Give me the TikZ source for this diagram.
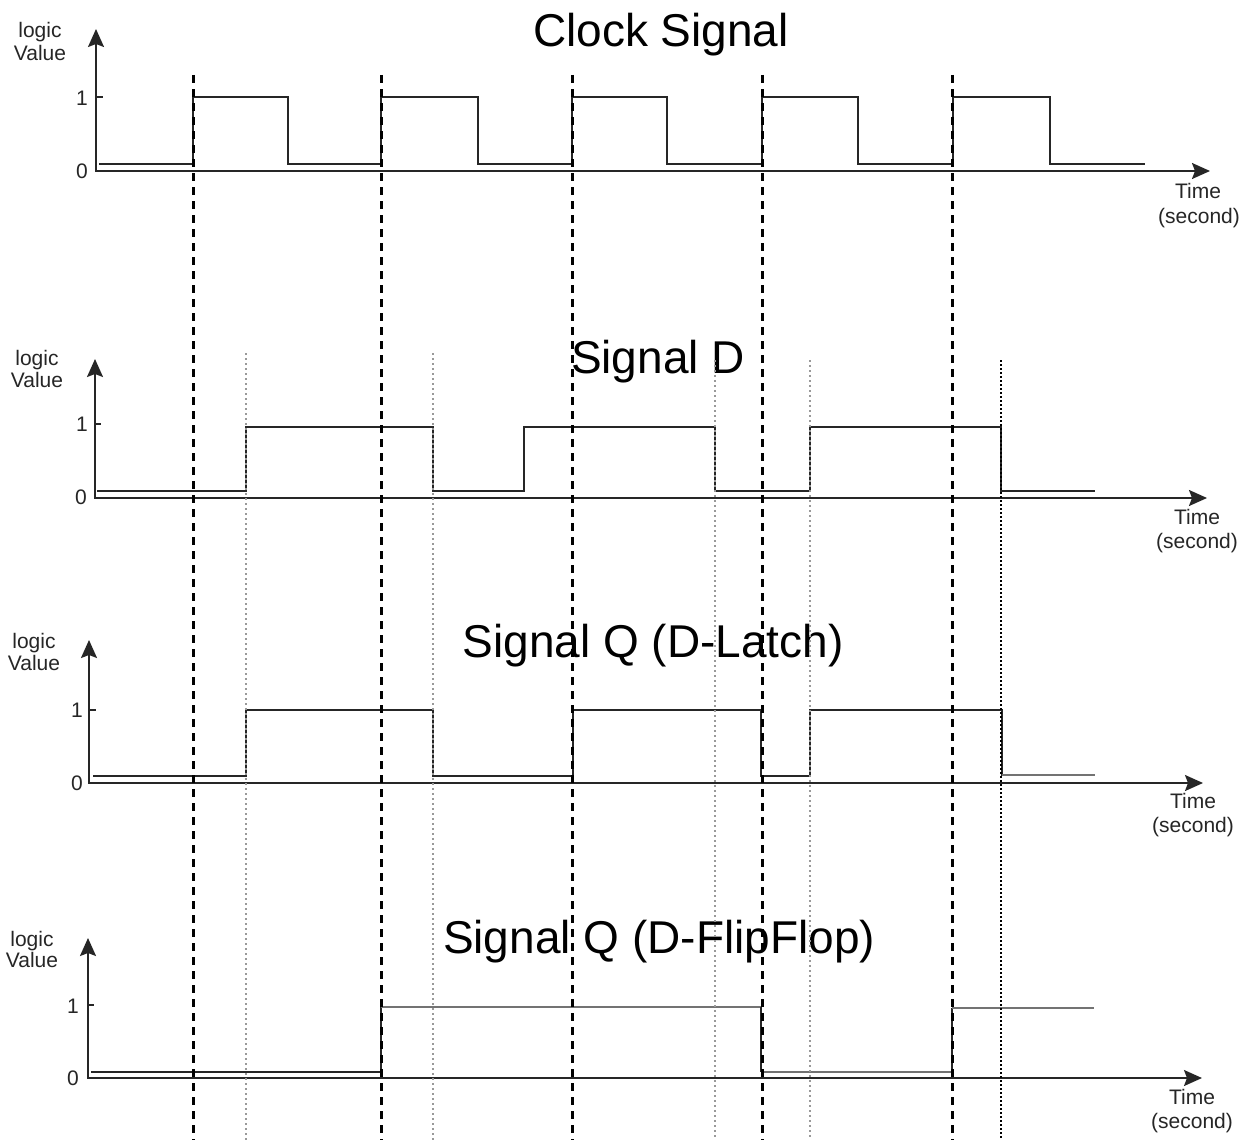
\documentclass[tikz,border=0pt]{standalone}
\usepackage{fontspec}
\setmainfont{Liberation Sans}
\usetikzlibrary{arrows.meta}
\begin{document}
\begin{tikzpicture}[x=1pt,y=-1pt,
  axis/.style={line width=1.8pt, black!85, arrows={Stealth[length=18pt,width=16pt,inset=3pt]-Stealth[length=18pt,width=16pt,inset=3pt]}},
  lbl/.style={font=\fontsize{21}{24}\selectfont, inner sep=0pt, text=black!85},
  ttl/.style={font=\fontsize{46}{50}\selectfont, inner sep=0pt, anchor=base, text=black},
  sig/.style={line width=2pt, black!85, line join=miter},
  siggray/.style={line width=2pt, black!55},
  clkline/.style={line width=3pt, black, dash pattern=on 8pt off 6pt},
  gdot/.style={line width=2.4pt, black!40, dash pattern=on 2pt off 3pt},
  bdot/.style={line width=1.4pt, black, dash pattern=on 2pt off 2pt},
  tickmark/.style={line width=1.5pt, black!85}]
\useasboundingbox[fill=white] (0,0) rectangle (1253,1140);

% ---------- Panel 1: Clock ----------
\coordinate (ya1) at (96,29);
\coordinate (o1) at (96,171);
\coordinate (xa1) at (1210,171);
\draw[axis] (ya1) -- (o1) -- (xa1);
\draw[tickmark] (96,97) -- (103,97);
\node[ttl] (t1) at (661,47) {Clock Signal};
\node[lbl,anchor=base] (lg1) at (40,38) {logic};
\node[lbl,anchor=base] (vl1) at (40,60) {Value};
\node[lbl] (one1) at (82,98) {1};
\node[lbl] (zero1) at (82,171) {0};
\node[lbl,anchor=base] (tm1) at (1198,198) {Time};
\node[lbl,anchor=base] (sc1) at (1199,223) {(second)};
\draw[sig] (99,164) -- (193,164) -- (193,97) -- (288,97) -- (288,164) -- (381,164) -- (381,97) -- (478,97) -- (478,164) -- (572,164) -- (572,97) -- (667,97) -- (667,164) -- (762,164) -- (762,97) -- (858,97) -- (858,164) -- (953,164) -- (953,97) -- (1050,97) -- (1050,164) -- (1145,164);

% ---------- Panel 2: Signal D ----------
\coordinate (ya2) at (95,359);
\coordinate (o2) at (95,498);
\coordinate (xa2) at (1207,498);
\draw[axis] (ya2) -- (o2) -- (xa2);
\draw[tickmark] (95,424) -- (101,424);
\node[ttl] (t2) at (658,373) {Signal D};
\node[lbl,anchor=base] (lg2) at (37,365) {logic};
\node[lbl,anchor=base] (vl2) at (37,387) {Value};
\node[lbl] (one2) at (82,424) {1};
\node[lbl] (zero2) at (81,497) {0};
\node[lbl,anchor=base] (tm2) at (1197,524) {Time};
\node[lbl,anchor=base] (sc2) at (1197,548) {(second)};
\draw[sig] (97,491) -- (246,491) -- (246,427) -- (433,427) -- (433,491) -- (524,491) -- (524,427) -- (715,427) -- (715,491) -- (810,491) -- (810,427) -- (1001,427) -- (1001,491) -- (1095,491);

% ---------- Panel 3: Signal Q (D-Latch) ----------
\coordinate (ya3) at (89,640);
\coordinate (o3) at (89,783);
\coordinate (xa3) at (1203,783);
\draw[axis] (ya3) -- (o3) -- (xa3);
\draw[tickmark] (89,710) -- (96,710);
\node[ttl] (t3) at (653,657) {Signal Q (D-Latch)};
\node[lbl,anchor=base] (lg3) at (34,648) {logic};
\node[lbl,anchor=base] (vl3) at (34,670) {Value};
\node[lbl] (one3) at (77,710) {1};
\node[lbl] (zero3) at (77,783) {0};
\node[lbl,anchor=base] (tm3) at (1193,808) {Time};
\node[lbl,anchor=base] (sc3) at (1193,832) {(second)};
\draw[sig] (93,776) -- (246,776) -- (246,710) -- (433,710) -- (433,776) -- (573,776) -- (573,710) -- (761,710) -- (761,776) -- (810,776) -- (810,710) -- (1002,710) -- (1002,776);
\draw[siggray] (1002,775) -- (1095,775);

% ---------- Panel 4: Signal Q (D-FlipFlop) ----------
\coordinate (ya4) at (88,938);
\coordinate (o4) at (88,1078);
\coordinate (xa4) at (1202,1078);
\draw[axis] (ya4) -- (o4) -- (xa4);
\draw[tickmark] (88,1005) -- (94,1005);
\node[ttl] (t4) at (659,953) {Signal Q (D-FlipFlop)};
\node[lbl,anchor=base] (lg4) at (32,946) {logic};
\node[lbl,anchor=base] (vl4) at (32,967) {Value};
\node[lbl] (one4) at (73,1006) {1};
\node[lbl] (zero4) at (73,1078) {0};
\node[lbl,anchor=base] (tm4) at (1192,1104) {Time};
\node[lbl,anchor=base] (sc4) at (1192,1128) {(second)};
\draw[sig] (91,1072) -- (381,1072) -- (381,1007);
\draw[siggray] (381,1007) -- (761,1007);
\draw[sig] (761,1007) -- (761,1072);
\draw[siggray] (761,1072) -- (952,1072);
\draw[sig] (952,1072) -- (952,1008);
\draw[siggray] (952,1008) -- (1094,1008);

% ---------- Vertical guide lines ----------
\foreach \x [count=\i] in {193,381,572,762,952} {
  \coordinate (ct\i) at (\x,75);
  \coordinate (cb\i) at (\x,1140);
  \draw[clkline] (ct\i) -- (cb\i);
}
\foreach \x/\y [count=\i] in {246/353,433/353,715/360,810/360} {
  \coordinate (dt\i) at (\x,\y);
  \coordinate (db\i) at (\x,1140);
  \draw[gdot] (dt\i) -- (db\i);
}
\coordinate (et) at (1001,360);
\coordinate (eb) at (1001,1140);
\draw[bdot] (et) -- (eb);
\end{tikzpicture}
\end{document}
